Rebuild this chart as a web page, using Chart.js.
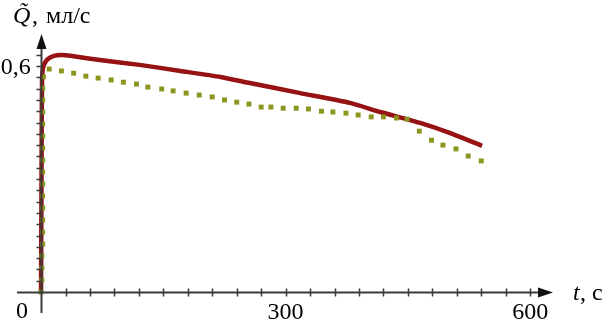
<!DOCTYPE html>
<html>
<head>
<meta charset="utf-8">
<script src="https://cdn.jsdelivr.net/npm/chart.js@4/dist/chart.umd.min.js"></script>
<style>
  html, body { margin: 0; padding: 0; background: #fff; }
  #wrap { width: 602px; height: 332px; }
</style>
</head>
<body>
<div id="wrap"><canvas id="myChart" width="602" height="332"></canvas></div>
<script>
// measured curve (red line)
var redT = [0, 0.4, 0.8, 1.2, 2, 4, 8, 16, 25, 36, 72, 121, 171, 220, 256, 318, 379, 416, 465, 502, 541];
var redQ = [0, 0.2, 0.42, 0.56, 0.59, 0.605, 0.618, 0.627, 0.629, 0.627, 0.616, 0.603, 0.587, 0.571, 0.555, 0.528, 0.502, 0.478, 0.449, 0.422, 0.388];

// model points (green squares)
var greenT = [0, 1, 1, 1, 2, 2, 2, 2, 2, 2, 2, 2, 2, 2, 2, 2, 2, 2, 3,
  10, 25, 40, 55, 70, 86, 101, 117, 131, 148, 162, 178, 194, 210, 225, 240, 255, 270,
  282, 297, 313, 328, 344, 358, 374, 389, 405, 420, 436, 449, 464, 479, 493, 509, 524, 540];
var greenQ = [0, 0.032, 0.064, 0.096, 0.127, 0.159, 0.191, 0.223, 0.255, 0.287, 0.319, 0.35, 0.382, 0.414, 0.446, 0.478, 0.51, 0.541, 0.571,
  0.592, 0.587, 0.581, 0.573, 0.568, 0.563, 0.557, 0.552, 0.544, 0.539, 0.534, 0.528, 0.523, 0.518, 0.51, 0.504, 0.499, 0.491,
  0.491, 0.488, 0.488, 0.486, 0.48, 0.478, 0.475, 0.47, 0.465, 0.465, 0.462, 0.459, 0.427, 0.403, 0.39, 0.38, 0.361, 0.348];

var xLabels = [300, 600];
var yLabels = [0.6];
var xTickStep = 30;
var yTickStep = 0.03;

var redPts = redT.map((t, i) => ({ x: t, y: redQ[i] }));
var greenPts = greenT.map((t, i) => ({ x: t, y: greenQ[i] }));

var serif = '"Liberation Serif", "Times New Roman", serif';

// axes with arrows, tick marks and titles
var axesPlugin = {
  id: 'axesPlugin',
  afterDraw(chart) {
    var ctx = chart.ctx;
    var xs = chart.scales.x, ys = chart.scales.y;
    var ca = chart.chartArea;
    var x0 = Math.round(xs.getPixelForValue(0)) + 0.5;
    var y0 = Math.round(ys.getPixelForValue(0)) + 0.5;
    ctx.save();
    ctx.strokeStyle = '#3a3a3a';
    ctx.fillStyle = '#111';
    ctx.lineWidth = 2;
    // x axis
    ctx.beginPath();
    ctx.moveTo(ca.left, y0);
    ctx.lineTo(ca.right - 8, y0);
    ctx.stroke();
    // y axis
    ctx.beginPath();
    ctx.moveTo(x0, ca.bottom);
    ctx.lineTo(x0, ca.top + 8);
    ctx.stroke();
    // arrows
    ctx.beginPath();
    ctx.moveTo(ca.right, y0);
    ctx.lineTo(ca.right - 15, y0 - 5);
    ctx.lineTo(ca.right - 15, y0 + 5);
    ctx.closePath();
    ctx.fill();
    ctx.beginPath();
    ctx.moveTo(x0, ca.top);
    ctx.lineTo(x0 - 5, ca.top + 15);
    ctx.lineTo(x0 + 5, ca.top + 15);
    ctx.closePath();
    ctx.fill();
    // tick marks
    ctx.lineWidth = 1.5;
    ctx.beginPath();
    for (var t = xTickStep; t <= 600; t += xTickStep) {
      var px = Math.round(xs.getPixelForValue(t)) + 0.5;
      ctx.moveTo(px, y0 - 4);
      ctx.lineTo(px, y0 + 4);
    }
    for (var k = 1; k <= 21; k++) {
      var py = Math.round(ys.getPixelForValue(k * yTickStep)) + 0.5;
      ctx.moveTo(x0 - 5, py);
      ctx.lineTo(x0, py);
    }
    ctx.stroke();
    // texts
    ctx.fillStyle = '#000';
    ctx.textBaseline = 'alphabetic';
    ctx.font = '24px ' + serif;
    ctx.textAlign = 'left';
    ctx.fillText('0', 16, y0 + 25);
    ctx.font = 'italic 24px ' + serif;
    ctx.fillText('t', 573, 300);
    ctx.font = '24px ' + serif;
    ctx.fillText(', с', 580, 300);
    ctx.font = 'italic 24px ' + serif;
    ctx.fillText('Q\u0303', 13, 23);
    ctx.font = '24px ' + serif;
    ctx.fillText(',', 32, 23);
    ctx.fillText('мл/с', 46, 23);
    ctx.restore();
  }
};

new Chart(document.getElementById('myChart'), {
  type: 'scatter',
  data: {
    datasets: [
      {
        label: 'red',
        data: redPts,
        showLine: true,
        borderColor: '#971313',
        borderWidth: 4.5,
        pointRadius: 0,
        tension: 0.2,
        order: 2,
      },
      {
        label: 'green',
        data: greenPts,
        showLine: false,
        pointStyle: 'rect',
        pointRadius: 3.5,
        backgroundColor: '#8c961e',
        borderWidth: 0,
        order: 1,
      },
    ],
  },
  plugins: [axesPlugin],
  options: {
    responsive: false,
    animation: false,
    layout: { padding: { left: 17, right: 49, top: 34, bottom: 19 } },
    plugins: { legend: { display: false }, tooltip: { enabled: false } },
    scales: {
      x: {
        type: 'linear',
        min: -29.5,
        max: 628,
        position: { y: 0 },
        grid: { display: false, drawTicks: false },
        border: { display: false },
        afterBuildTicks: (s) => { s.ticks = xLabels.map((v) => ({ value: v })); },
        ticks: { color: '#000', padding: 6, maxRotation: 0, font: { family: serif, size: 24 } },
      },
      y: {
        type: 'linear',
        min: -0.0557,
        max: 0.685,
        // labels sit a little left of the drawn axis line
        position: { x: -12.5 },
        grid: { display: false, drawTicks: false },
        border: { display: false },
        afterBuildTicks: (s) => { s.ticks = yLabels.map((v) => ({ value: v })); },
        ticks: {
          color: '#000',
          labelOffset: 2,
          font: { family: serif, size: 24 },
          callback: (v) => String(v).replace('.', ','),
        },
      },
    },
  },
});
</script>
</body>
</html>
